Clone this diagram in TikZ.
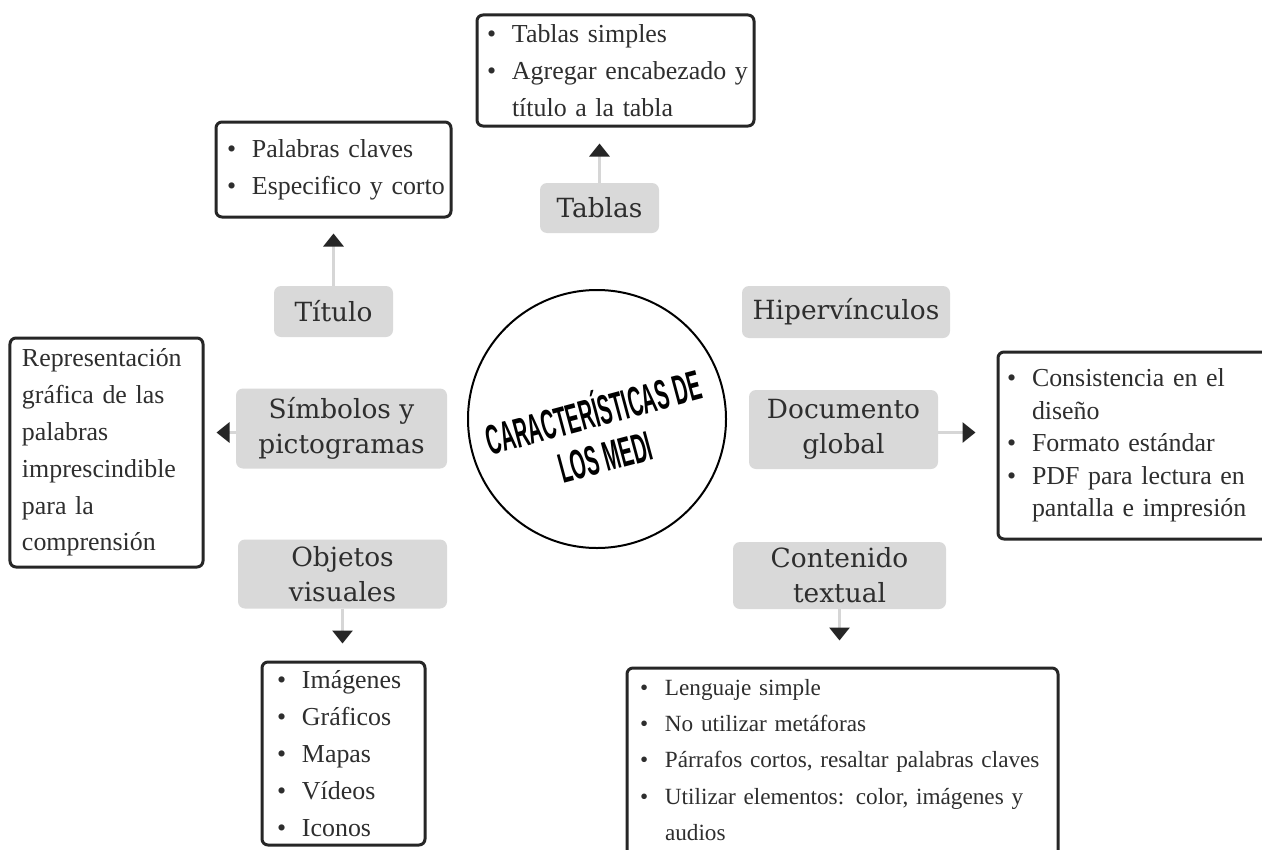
\documentclass[tikz,border=0pt]{standalone}
\usepackage{fontspec}
\newfontfamily\labelfont{DejaVu Serif}
\newfontfamily\notefont{Liberation Serif}
\newfontfamily\hubfont{Liberation Sans}
\usetikzlibrary{arrows.meta}
\definecolor{boxgray}{HTML}{D9D9D9}
\definecolor{linegray}{HTML}{D6D6D6}
\definecolor{inkdark}{HTML}{262626}
\definecolor{textdark}{HTML}{2E2E2E}
\newlength\leadin
\newlength\hang
\setlength\hang{25bp}
\newcommand{\itm}{\hspace*{\leadin}\makebox[\hang][l]{\textbullet}}
\newcommand{\cnt}{\hspace*{\leadin}\hspace*{\hang}}
\newcommand{\pln}{\hspace*{\leadin}}
\newcommand{\sqz}[1]{\scalebox{0.47}[1]{#1}}
\tikzset{
  topic/.style={fill=boxgray, rounded corners=7bp, text=textdark, align=center,
    font=\labelfont\fontsize{26.5}{35}\selectfont, inner sep=0pt},
  notes/.style={draw=inkdark, line width=3bp, rounded corners=6bp, fill=white,
    text=textdark, align=left, inner xsep=0pt, inner ysep=0pt,
    font=\notefont\fontsize{26}{37}\selectfont},
  lead/.code={\setlength\leadin{#1}},
  link/.style={draw=linegray, line width=3bp,
    -{Triangle[length=13bp,width=20bp,color=inkdark]}}
}
\begin{document}
\begin{tikzpicture}[x=1bp,y=-1bp]
\useasboundingbox (0,0) rectangle (1262,850);
\fill[white] (0,0) rectangle (1262,850);
\clip (0,0) rectangle (1262,850);
%hub
\node[draw, circle, line width=2bp, minimum size=258bp, inner sep=0pt] (hub) at (597,419) {};
\node[rotate=15, align=center, font=\hubfont\bfseries\fontsize{42}{46}\selectfont] (hubtext) at (598.5,431.5)
  {\sqz{CARACTERÍSTICAS DE}\\\sqz{LOS MEDI}};
%topics
\node[topic, minimum width=119bp, minimum height=50bp] (tablas) at (599.5,208) {Tablas};
\node[topic, minimum width=119bp, minimum height=51bp] (titulo) at (333.5,311.5) {Título};
\node[topic, minimum width=208bp, minimum height=52bp] (hiper) at (846,312) {Hipervínculos};
\node[topic, minimum width=211bp, minimum height=80bp] (simbolos) at (341.5,428.5) {Símbolos y\\pictogramas};
\node[topic, minimum width=189bp, minimum height=79bp] (documento) at (843.5,429.5) {Documento\\global};
\node[topic, minimum width=209bp, minimum height=69bp] (objetos) at (342.5,574) {Objetos\\visuales};
\node[topic, minimum width=213bp, minimum height=67bp] (contenido) at (839.5,575.5) {Contenido\\textual};
%notes
\node[notes, lead=11bp, text width=235bp, minimum height=95bp] (titlist) at (333.5,169.5)
  {\itm Palabras claves\\\itm Especifico y corto};
\node[notes, lead=10bp, text width=277bp, minimum height=111bp] (tablist) at (615.5,70.5)
  {\itm Tablas simples\\\itm Agregar encabezado y\\\cnt título a la tabla};
\node[notes, lead=12bp, text width=193bp, minimum height=229bp] (replist) at (106.5,452.5)
  {\pln Representación\\\pln gráfica de las\\\pln palabras\\\pln imprescindible\\\pln para la\\\pln comprensión};
\node[notes, lead=9bp, text width=277bp, minimum height=187bp,
  font=\notefont\fontsize{26}{32.5}\selectfont] (doclist) at (1136.5,445.5)
  {\itm Consistencia en el\\\cnt diseño\\\itm Formato estándar\\\itm PDF para lectura en\\\cnt pantalla e impresión};
\node[notes, lead=15bp, text width=163bp, minimum height=183bp] (objlist) at (343.5,753.5)
  {\itm Imágenes\\\itm Gráficos\\\itm Mapas\\\itm Vídeos\\\itm Iconos};
\node[notes, lead=13bp, text width=431bp, minimum height=220bp,
  font=\notefont\fontsize{23.3}{36.3}\selectfont] (contlist) at (842.5,778)
  {\itm Lenguaje simple\\\itm No utilizar metáforas\\\itm Párrafos cortos, resaltar palabras claves\\\itm Utilizar elementos:  color, imágenes y\\\cnt audios\\\mbox{}};
%links
\draw[link, shorten >=15bp] (titulo.north) -- (titulo.north |- titlist.south);
\draw[link, shorten >=16bp] (tablas.north) -- (tablas.north |- tablist.south);
\draw[link, shorten >=12bp] ([yshift=-4bp]simbolos.west) -- ([yshift=-4bp]simbolos.west -| replist.east);
\draw[link, shorten >=21bp] ([yshift=-3bp]documento.east) -- ([yshift=-3bp]documento.east -| doclist.west);
\draw[link, shorten >=17bp] (objetos.south) -- (objetos.south |- objlist.north);
\draw[link, shorten >=26bp] (contenido.south) -- (contenido.south |- contlist.north);
\end{tikzpicture}
\end{document}
